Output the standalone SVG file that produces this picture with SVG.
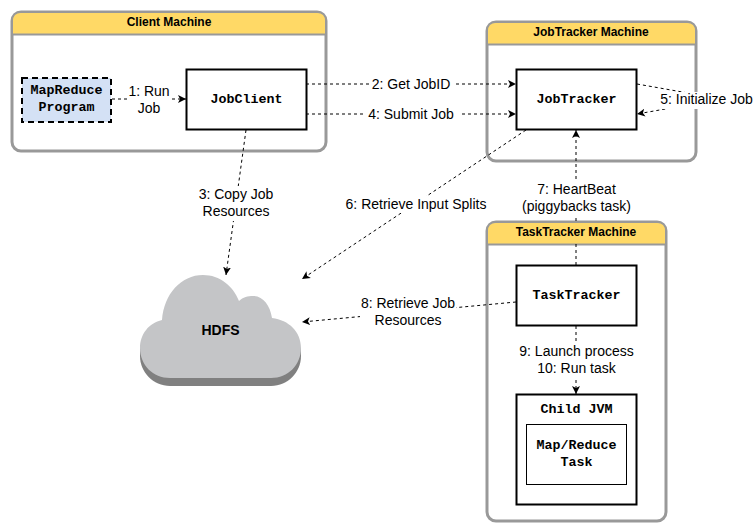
<svg xmlns="http://www.w3.org/2000/svg" width="755" height="532" viewBox="0 0 755 532">
<style>
text{font-family:"Liberation Sans",Arial,sans-serif;font-size:14px;text-anchor:middle;fill:#000}
.mono{font-family:"Liberation Mono","Courier New",monospace;font-weight:bold;font-size:13.330px}
.title{font-weight:bold;font-size:12px}
.machine{fill:#fff;stroke:#999;stroke-width:3}
.head{fill:#ffd966}
.box{fill:#fff;stroke:#000;stroke-width:2}
.conn{fill:none;stroke:#000;stroke-width:1;stroke-dasharray:3 3;marker-end:url(#arrow)}
.bg{fill:#fff}
</style>
<defs>
<marker id="arrow" markerUnits="userSpaceOnUse" markerWidth="10" markerHeight="10" refX="8" refY="4" orient="auto" viewBox="0 0 10 8">
<path d="M0 0L8 4L0 8L2 4Z" fill="#000"/>
</marker>
</defs>
<rect width="755" height="532" fill="#fff"/>
<g id="client-machine">
<rect class="machine" x="12" y="12" width="314" height="139" rx="9"/>
<path class="head" d="M13 34V21Q13 13 21 13H317Q325 13 325 21V34Z"/>
<path d="M12 34.500H326" stroke="#999" stroke-width="2"/>
<text class="title" x="169" y="26">Client Machine</text>
</g>
<g id="jobtracker-machine">
<rect class="machine" x="487" y="22" width="209" height="139" rx="9"/>
<path class="head" d="M488 44V31Q488 23 496 23H687Q695 23 695 31V44Z"/>
<path d="M487 44.500H696" stroke="#999" stroke-width="2"/>
<text class="title" x="591" y="36">JobTracker Machine</text>
</g>
<g id="tasktracker-machine">
<rect class="machine" x="487" y="222" width="179" height="299" rx="9"/>
<path class="head" d="M488 244V231Q488 223 496 223H657Q665 223 665 231V244Z"/>
<path d="M487 244.500H666" stroke="#999" stroke-width="2"/>
<text class="title" x="576" y="236">TaskTracker Machine</text>
</g>
<g id="connectors">
<path class="conn" d="M112 99H186"/>
<path class="conn" d="M306 84H516"/>
<path class="conn" d="M306 114H516"/>
<path class="conn" d="M246 130L226 275"/>
<path class="conn" d="M637 84L722 99L637 114"/>
<path class="conn" d="M526 130L302 279"/>
<path class="conn" d="M576 265V244M576 221V130"/>
<path class="conn" d="M516 302L302 322"/>
<path class="conn" d="M576 326V394"/>
<rect class="bg" x="128" y="83" width="44" height="34"/>
<rect class="bg" x="369" y="76" width="84" height="17"/>
<rect class="bg" x="363" y="106" width="96" height="17"/>
<rect class="bg" x="197" y="186" width="78" height="35"/>
<rect class="bg" x="659" y="92" width="95" height="17"/>
<rect class="bg" x="343" y="196" width="146" height="17"/>
<rect class="bg" x="520" y="181" width="113" height="35"/>
<rect class="bg" x="360" y="295" width="96" height="35"/>
<rect class="bg" x="517" y="344" width="119" height="34"/>
<text x="149" y="96">1: Run</text>
<text x="149" y="113">Job</text>
<text x="411" y="89">2: Get JobID</text>
<text x="411" y="119">4: Submit Job</text>
<text x="236" y="199">3: Copy Job</text>
<text x="236" y="216">Resources</text>
<text x="706.500" y="104">5: Initialize Job</text>
<text x="416" y="209">6: Retrieve Input Splits</text>
<text x="576.500" y="194">7: HeartBeat</text>
<text x="576.500" y="211">(piggybacks task)</text>
<text x="408" y="308">8: Retrieve Job</text>
<text x="408" y="325">Resources</text>
<text x="576.500" y="356">9: Launch process</text>
<text x="576.500" y="373">10: Run task</text>
</g>
<g id="mapreduce-program">
<rect x="22" y="78" width="89" height="44" fill="#d4e1f5" stroke="#000" stroke-width="2" stroke-dasharray="6 4"/>
<text class="mono" x="66.500" y="94">MapReduce</text>
<text class="mono" x="66.500" y="111">Program</text>
</g>
<g id="jobclient">
<rect class="box" x="186.500" y="69.500" width="120" height="60"/>
<text class="mono" x="246.500" y="103">JobClient</text>
</g>
<g id="jobtracker">
<rect class="box" x="516.500" y="69.500" width="120" height="60"/>
<text class="mono" x="576.500" y="103">JobTracker</text>
</g>
<g id="tasktracker">
<rect class="box" x="516.500" y="265.500" width="120" height="60"/>
<text class="mono" x="576.500" y="299">TaskTracker</text>
</g>
<g id="child-jvm">
<rect class="box" x="516.500" y="394.500" width="120" height="110"/>
<text class="mono" x="576.500" y="413">Child JVM</text>
</g>
<g id="map-reduce-task">
<rect x="526.500" y="424.500" width="100" height="60" fill="#fff" stroke="#000" stroke-width="1"/>
<text class="mono" x="576.500" y="449">Map/Reduce</text>
<text class="mono" x="576.500" y="466">Task</text>
</g>
<g id="hdfs">
<path d="M140 348V356C140 372 153 386 170 386H271C288 386 301 372 301 356V348Z" fill="#808080"/>
<path d="M162 320C164 294 181 275 203 275C220 275 233 286 239 301C243 297 248 296 253 296C263 296 270 305 272 318C289 320 301 332 301 348C301 365 288 378 271 378H170C153 378 140 365 140 348C140 334 149 323 162 320Z" fill="#c4c5c7"/>
<text class="title" x="220.500" y="335" style="font-size:14px">HDFS</text>
</g>
</svg>
